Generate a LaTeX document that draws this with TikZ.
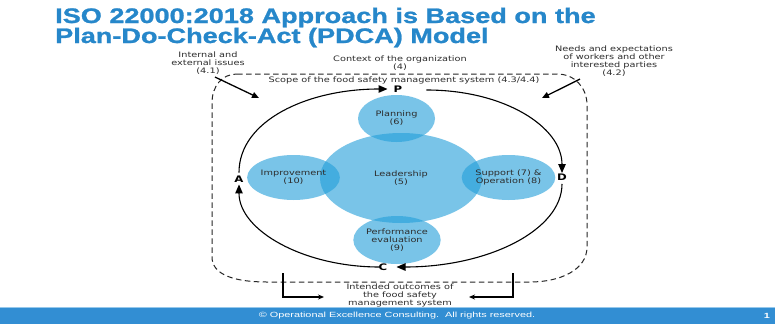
\documentclass[tikz,border=0pt]{standalone}
\usepackage{fontspec}
\setmainfont{Liberation Sans}
\newfontfamily\titlefont[FakeStretch=1.29,FakeBold=1.2]{Liberation Sans}
\newfontfamily\diagfont[FakeStretch=1.3]{DejaVu Sans}
\newfontfamily\footfont[FakeStretch=1.45]{Liberation Sans}
\usetikzlibrary{arrows.meta,shapes.geometric}

\definecolor{titleblue}{RGB}{38,135,202}
\definecolor{footblue}{RGB}{50,142,211}
\definecolor{footline}{RGB}{150,200,235}
\definecolor{bubblefill}{RGB}{33,158,217}
\definecolor{textgray}{RGB}{45,45,45}

\tikzset{
  titletext/.style={anchor=base west, inner sep=0, text=titleblue,
    font=\titlefont\bfseries\fontsize{21}{24}\selectfont},
  smalltext/.style={align=center, inner sep=0, text=textgray,
    font=\diagfont\fontsize{7.5}{8}\selectfont},
  bubble/.style={ellipse, fill=bubblefill, fill opacity=0.6, text opacity=1,
    inner sep=0, align=center, text=textgray,
    font=\diagfont\fontsize{7.5}{8}\selectfont},
  letter/.style={inner sep=1pt, text=black,
    font=\diagfont\bfseries\fontsize{9}{10}\selectfont},
  cycarrow/.style={draw=black, line width=1.1pt,
    -{Triangle[length=9pt,width=7.5pt]}},
  scopebox/.style={draw=black!85, line width=1pt, dash pattern=on 5.5pt off 3.5pt},
  issuearrow/.style={draw=black, line width=1.3pt,
    -{Triangle[length=7pt,width=6pt]}},
  outarrow/.style={draw=black, line width=1.2pt,
    -{Stealth[length=6pt,width=5pt]}},
}

\begin{document}
\begin{tikzpicture}[x=1pt,y=-1pt]
  \useasboundingbox (0,0) rectangle (775,324);
  \fill[white] (0,0) rectangle (775,324);

  % heading
  \node[titletext] (title1) at (55,23) {ISO 22000:2018 Approach is Based on the};
  \node[titletext] (title2) at (55,43) {Plan-Do-Check-Act (PDCA) Model};

  % scope of the food safety management system (dashed frame)
  \draw[scopebox] (237,74) -- (557,74)
    .. controls (575,74) and (587,88) .. (587,105) -- (587,247)
    .. controls (587,270) and (560,282) .. (530,282) -- (267,282)
    .. controls (235,282) and (212,275) .. (212,257) -- (212,103)
    .. controls (212,86) and (222,74) .. (237,74) -- cycle;

  % labels around the frame
  \node[smalltext] (issues) at (208,63.5) {Internal and\\external issues\\(4.1)};
  \node[smalltext] (context) at (400,63) {Context of the organization\\(4)};
  \node[smalltext] (needs) at (614,61.5) {Needs and expectations\\of workers and other\\interested parties\\(4.2)};
  \node[smalltext] (scope) at (404,80.5) {Scope of the food safety management system (4.3/4.4)};
  \node[smalltext] (outcomes) at (400,295.5) {Intended outcomes of\\the food safety\\management system};

  % inputs pointing into the frame
  \coordinate (inL) at (259,98);
  \coordinate (inR) at (542,98);
  \draw[issuearrow] ([xshift=7pt,yshift=-2pt]issues.south) -- (inL);
  \draw[issuearrow] ([xshift=-34pt,yshift=-2pt]needs.south) -- (inR);

  % outputs
  \coordinate (outL) at (283,273);
  \coordinate (outR) at (513,273);
  \coordinate (outLtip) at (324,297);
  \coordinate (outRtip) at (469,297);
  \draw[outarrow] (outL) |- (outLtip);
  \draw[outarrow] (outR) |- (outRtip);

  % clauses of the standard
  \node[bubble, minimum width=162pt, minimum height=90pt] (lead) at (401,178) {Leadership\\(5)};
  \node[bubble, minimum width=77pt, minimum height=47pt] (plan) at (396.5,118.5) {Planning\\(6)};
  \node[bubble, minimum width=87pt, minimum height=45pt] (impr) at (293.5,177.5) {Improvement\\(10)};
  \node[bubble, minimum width=83pt, minimum height=45pt] (supp) at (508.5,177.5) {Support (7) \&\\Operation (8)};
  \node[bubble, minimum width=77pt, minimum height=48pt] (perf) at (397,240) {Performance\\evaluation\\(9)};

  % PDCA cycle
  \node[letter] (P) at (398,89) {P};
  \node[letter] (D) at (562,177.5) {D};
  \node[letter] (C) at (383,267) {C};
  \node[letter] (A) at (239,179) {A};

  \draw[cycarrow, shorten >=5pt] ([yshift=2pt]A.north)
    .. controls +(0,-52) and +(-85,0) .. (P.west);
  \draw[cycarrow] ([xshift=23pt,yshift=-1pt]P.east)
    .. controls +(78,0) and +(0,-46) .. (D.north);
  \draw[cycarrow] ([yshift=-2pt]D.south)
    .. controls +(0,46) and +(92,0) .. ([xshift=8pt]C.east);
  \draw[cycarrow] ([xshift=2pt]C.west)
    .. controls +(-76,0) and +(0,46) .. ([yshift=-1pt]A.south);

  % footer
  \fill[footblue] (0,307) rectangle (775,324);
  \fill[footline] (0,307) rectangle (775,308);
  \node[inner sep=0, text=white, font=\footfont\fontsize{7.5}{8}\selectfont] (copy) at (397,315.5)
    {\textcopyright{} Operational Excellence Consulting.\ \ All rights reserved.};
  \node[inner sep=0, text=white, font=\footfont\bfseries\fontsize{7.5}{8}\selectfont] (page) at (767,315.5) {1};
\end{tikzpicture}
\end{document}
